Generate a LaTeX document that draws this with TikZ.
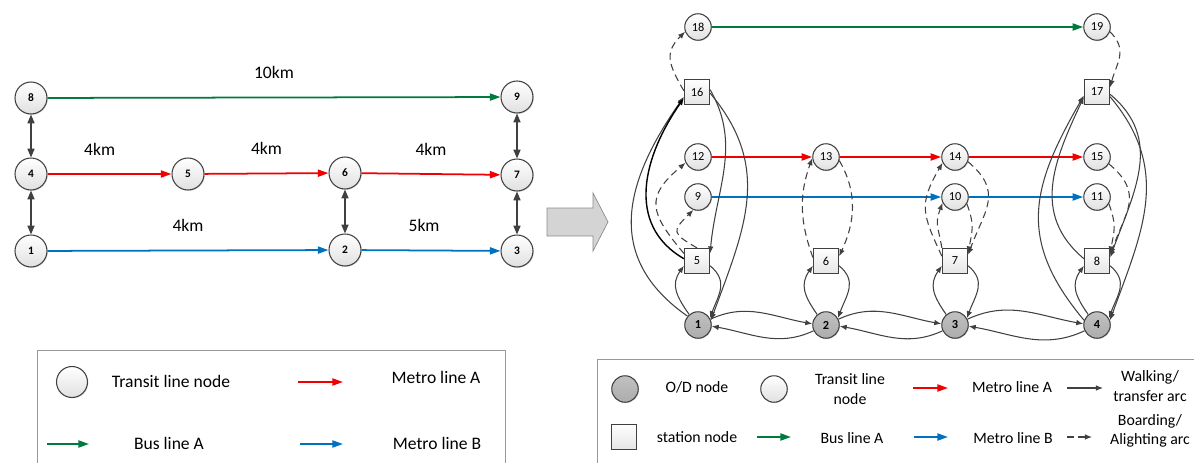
\documentclass[tikz,border=0pt]{standalone}
\usepackage{fontspec}
\setmainfont{Carlito}
\usetikzlibrary{arrows.meta,shadows}
\definecolor{busgreen}{RGB}{0,122,61}
\definecolor{metrored}{RGB}{240,0,0}
\definecolor{metroblue}{RGB}{0,112,192}
\definecolor{arcgray}{RGB}{64,64,64}
\definecolor{odgray}{RGB}{172,172,172}
\begin{document}
\begin{tikzpicture}[x=0.02cm, y=0.02cm,
    ball/.style={circle, draw=arcgray, line width=0.6pt, inner sep=0pt, top color=white, bottom color=black!12,
      drop shadow={shadow xshift=0.5pt, shadow yshift=-0.5pt, opacity=0.25}},
    lnode/.style={ball, minimum size=0.64cm, font=\fontsize{6.5}{7}\selectfont\bfseries},
    tnode/.style={ball, minimum size=0.53cm, font=\fontsize{7}{8}\selectfont},
    odnode/.style={tnode, top color=odgray!75!white, bottom color=odgray, font=\fontsize{7}{8}\selectfont\bfseries},
    snode/.style={rectangle, draw=arcgray, line width=0.7pt, minimum size=0.5cm, inner sep=0pt, top color=white,
      bottom color=black!10, drop shadow={shadow xshift=0.5pt, shadow yshift=-0.5pt, opacity=0.25}, font=\fontsize{7}{8}\selectfont},
    busA/.style={busgreen, line width=1pt, -{Triangle[length=6pt,width=4pt]}},
    metroA/.style={metrored, line width=1pt, -{Triangle[length=6pt,width=4pt]}},
    metroB/.style={metroblue, line width=1pt, -{Triangle[length=6pt,width=4pt]}},
    dbl/.style={arcgray, line width=0.8pt, {Triangle[length=5pt,width=4pt]}-{Triangle[length=5pt,width=4pt]}},
    walk/.style={arcgray, line width=0.6pt, -{Latex[length=4pt,width=3.2pt]}},
    board/.style={walk, dash pattern=on 4pt off 2.5pt},
    km/.style={midway, yshift=0.5cm, text=black, font=\fontsize{10}{12}\selectfont},
    ltxt/.style={font=\fontsize{10}{12}\selectfont},
    rtxt/.style={font=\fontsize{9}{11}\selectfont, align=center}]
  \useasboundingbox (0,0) rectangle (1194,-463);

  % physical network
  \foreach \n/\x/\y in {8/31/98,9/517/97,4/31/174,5/188/174,6/345/173,7/517/175,1/31/251,2/345/250,3/517/251}
    \node[lnode] (L\n) at (\x,-\y) {\n};
  \draw[busA] (L8) -- node[km] (d89) {10km} (L9);
  \draw[metroA] (L4) -- node[km,pos=0.42] (d45) {4km} (L5);
  \draw[metroA] (L5) -- node[km] (d56) {4km} (L6);
  \draw[metroA] (L6) -- node[km] (d67) {4km} (L7);
  \draw[metroB] (L1) -- node[km] (d12) {4km} (L2);
  \draw[metroB] (L2) -- node[km,pos=0.45] (d23) {5km} (L3);
  \foreach \a/\b in {8/4,4/1,6/2,9/7,7/3}
    \draw[dbl] (L\a) -- (L\b);

  \draw[draw=black!45, fill=black!17] (547,-208) -- (593,-208) -- (593,-193) -- (608,-222) -- (593,-251) -- (593,-236) -- (547,-236) -- cycle;

  % expanded network
  \foreach \n/\x/\y in {18/698/27,19/1097/27,12/698/157,13/826/157,14/955/157,15/1097/157,9/698/197,10/955/197,11/1097/197}
    \node[tnode] (R\n) at (\x,-\y) {\n};
  \foreach \n/\x/\y in {16/697/92,17/1097/92,5/697/261,6/826/261,7/955/261,8/1097/261}
    \node[snode] (R\n) at (\x,-\y) {\n};
  \foreach \n/\x in {1/698,2/826,3/955,4/1097}
    \node[odnode] (R\n) at (\x,-325) {\n};

  \draw[busA] (R18) -- (R19);
  \draw[metroA] (R12) -- (R13);
  \draw[metroA] (R13) -- (R14);
  \draw[metroA] (R14) -- (R15);
  \draw[metroB] (R9) -- (R10);
  \draw[metroB] (R10) -- (R11);

  \foreach \o/\s in {1/5,2/6,3/7,4/8} {
    \draw[walk] (R\o.130) to[out=125,in=235,looseness=1.2] (R\s.200);
    \draw[walk] (R\s.340) to[out=-40,in=70,looseness=1.2] (R\o.30);
  }
  \foreach \a/\b in {1/2,2/3,3/4} {
    \draw[walk] (R\a.25) to[out=25,in=170] (R\b.175);
    \draw[walk] (R\b.205) to[out=205,in=-10] (R\a.-5);
  }

  \draw[walk] (R1.140) to[out=145,in=235,looseness=1.2] (R16.200);
  \draw[walk,black,line width=0.8pt] (R5.170) to[out=150,in=235,looseness=1.1] (R16.205);
  \draw[walk] (R16.10) to[out=-60,in=85] (R5.30);
  \draw[walk] (R16.-5) to[out=-50,in=70,looseness=1.1] (R1.20);
  \draw[board] (R5.150) to[out=130,in=220,looseness=1.5] (R12.205);
  \draw[board] (R5.north) to[out=150,in=225,looseness=2] (R9.250);
  \draw[board] (R16.175) to[out=120,in=225,looseness=1.3] (R18.200);

  \draw[board] (R6.165) to[out=110,in=250] (R13.185);
  \draw[board] (R13.-15) to[out=-60,in=65] (R6.20);

  \draw[board] (R7.160) to[out=115,in=240,looseness=1.3] (R14.205);
  \draw[board] (R7.135) to[out=100,in=250,looseness=1.3] (R10.205);
  \draw[board] (R14.-20) to[out=-40,in=70,looseness=1.3] (R7.25);
  \draw[board] (R10.-30) to[out=-70,in=80,looseness=1.2] (R7.30);

  \draw[walk] (R4.160) to[out=130,in=240,looseness=1.2] (R17.195);
  \draw[walk] (R8.170) to[out=140,in=245,looseness=1.1] (R17.200);
  \draw[walk] (R17.-10) to[out=-40,in=70,looseness=1.1] (R8.15);
  \draw[walk] (R17.-20) to[out=-50,in=70,looseness=1.1] (R4.20);
  \draw[board] (R15.-30) to[out=-40,in=70,looseness=1.3] (R8.25);
  \draw[board] (R11.-30) to[out=-70,in=80,looseness=1.2] (R8.30);
  \draw[board] (R19.-20) to[out=-45,in=75,looseness=1.2] (R17.20);

  % legends
  \draw[black!40, line width=0.4pt] (37,-463) -- (37,-350) -- (505,-350) -- (505,-463);
  \node[lnode, minimum size=0.62cm] (lgC) at (72,-382) {};
  \node[ltxt] (lgT) at (171,-381) {Transit line node};
  \node[ltxt] (lgMA) at (436,-377) {Metro line A};
  \node[ltxt] (lgBA) at (169,-443) {Bus line A};
  \node[ltxt] (lgMB) at (437,-443) {Metro line B};
  \foreach \n/\xa/\xb/\yy/\st in {lgr/298/343/382/metroA,lgg/47/89/444/busA,lgb/300/343/444/metroB} {
    \coordinate (\n0) at (\xa,-\yy);
    \coordinate (\n1) at (\xb,-\yy);
    \draw[\st] (\n0) -- (\n1);
  }

  \draw[black!40, line width=0.4pt] (597,-463) -- (597,-359) -- (1194,-359);
  \node[odnode] (kOD) at (625,-389) {};
  \node[rtxt] (kODt) at (697,-387) {O/D node};
  \node[tnode] (kT) at (774,-389) {};
  \node[rtxt] (kTt) at (850,-389) {Transit line\\node};
  \node[rtxt] (kMA) at (1012,-387) {Metro line A};
  \node[rtxt] (kW) at (1150,-386) {Walking/\\transfer arc};
  \node[snode] (kS) at (624,-437) {};
  \node[rtxt] (kSt) at (697,-437) {station node};
  \node[rtxt] (kBA) at (852,-438) {Bus line A};
  \node[rtxt] (kMB) at (1013,-438) {Metro line B};
  \node[rtxt] (kB) at (1150,-431) {Boarding/\\Alighting arc};
  \foreach \n/\xa/\xb/\yy/\st in {kr/913/948/388/metroA,kw/1067/1103/388/walk,kg/757/791/437/busA,kb/914/948/437/metroB,kd/1067/1092/437/board} {
    \coordinate (\n0) at (\xa,-\yy);
    \coordinate (\n1) at (\xb,-\yy);
    \draw[\st] (\n0) -- (\n1);
  }
\end{tikzpicture}
\end{document}
